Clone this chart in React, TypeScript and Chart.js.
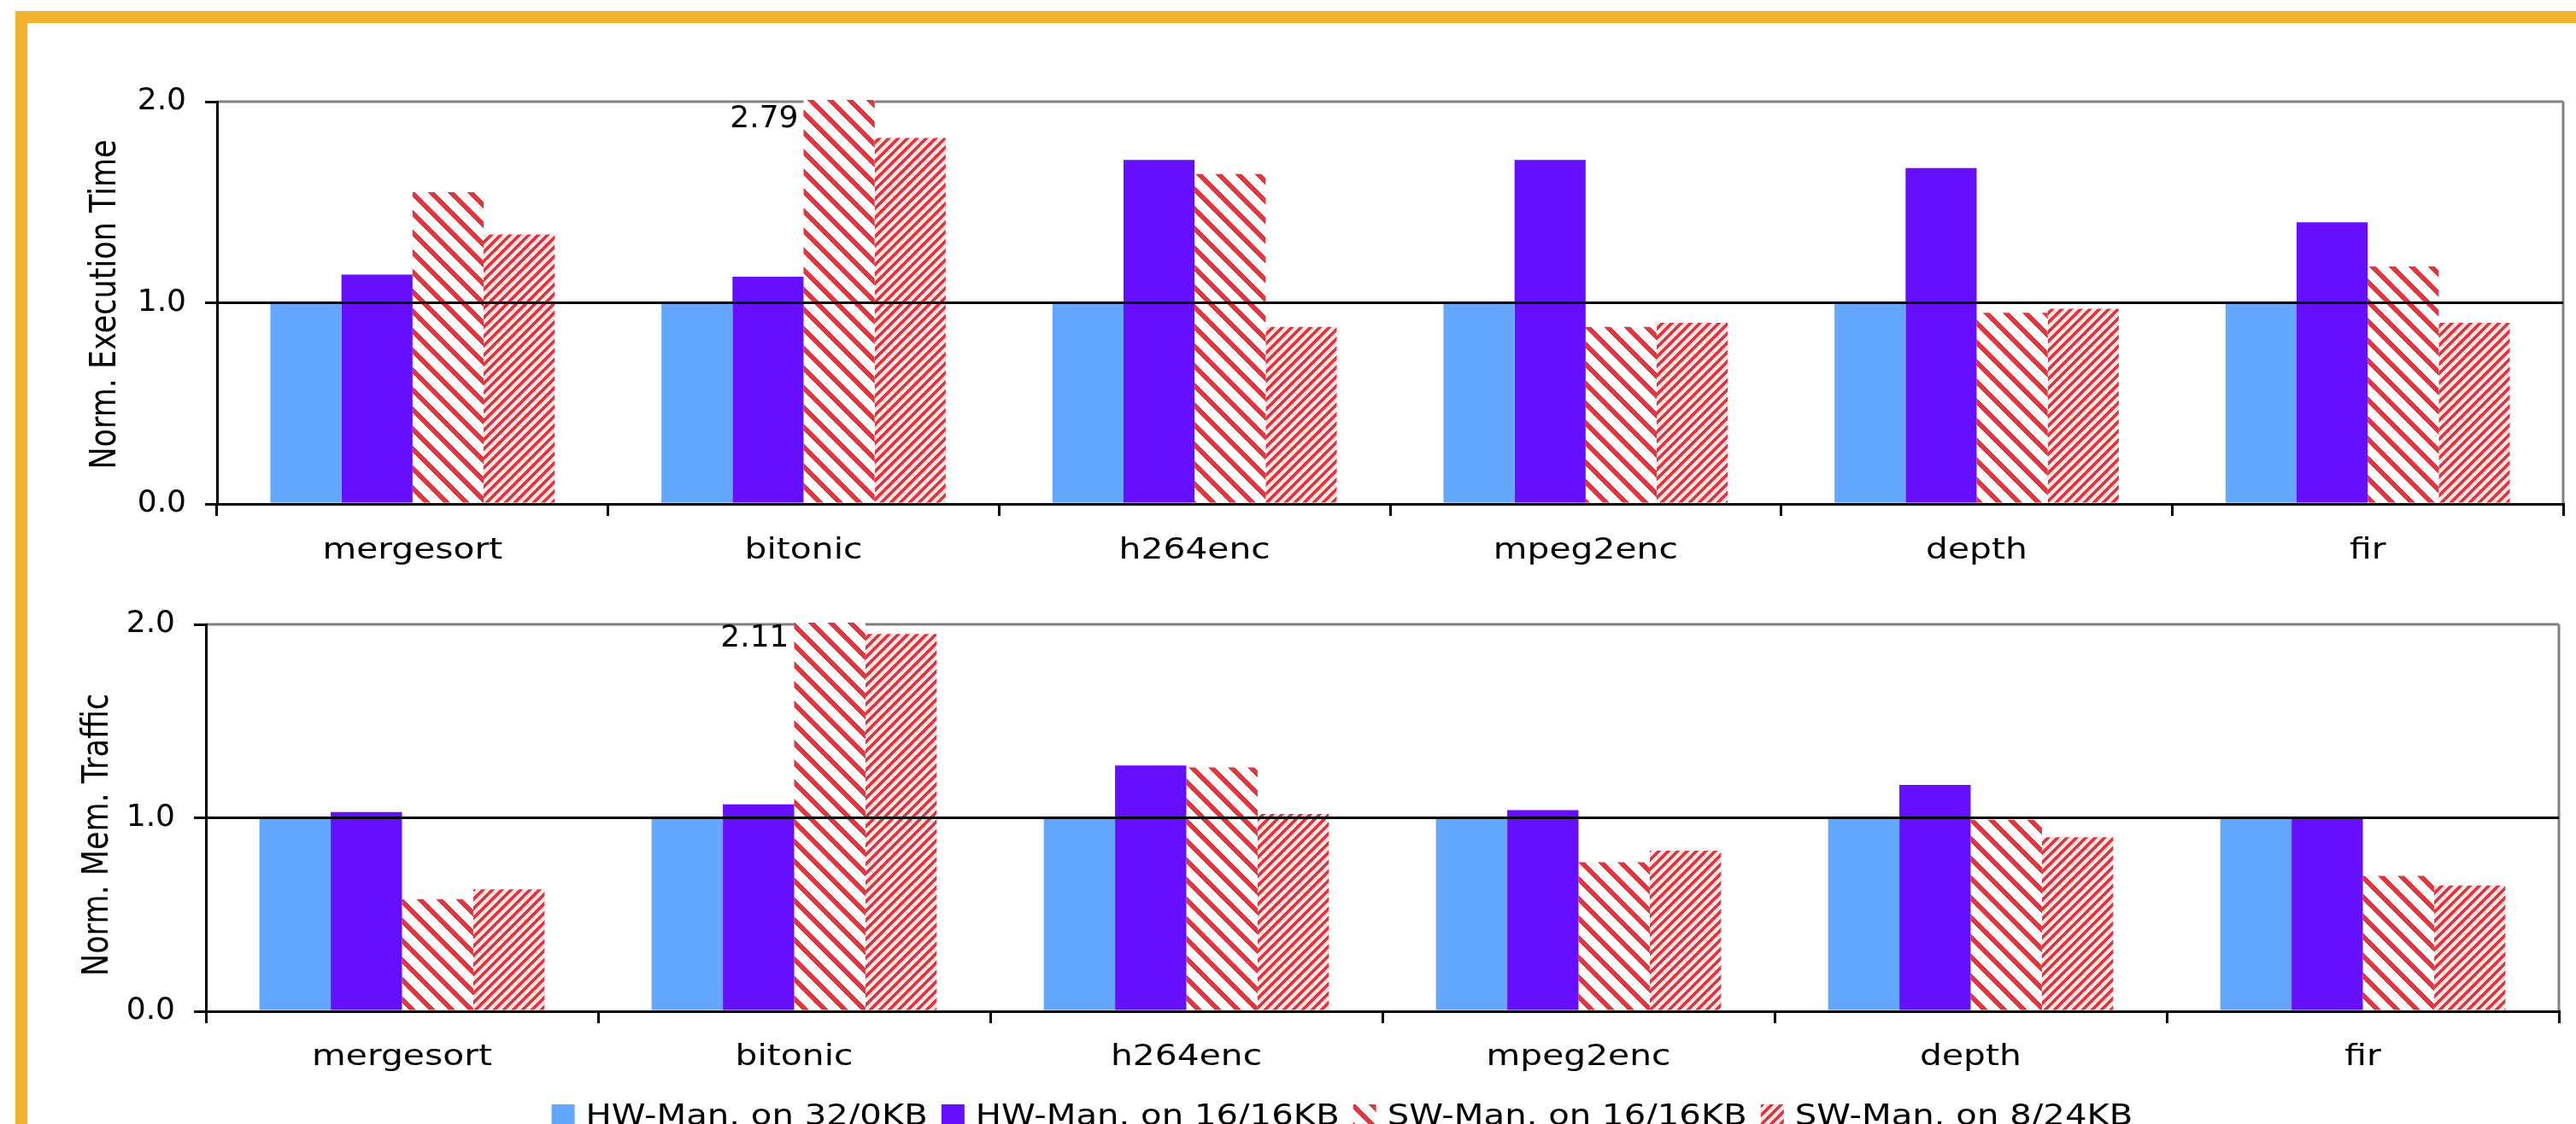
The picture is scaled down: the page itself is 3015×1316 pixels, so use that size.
import React, { useEffect, useRef } from 'react';
import { Chart, registerables } from 'chart.js';

Chart.register(...registerables);

// ---------------- data ----------------
const categories = ['mergesort', 'bitonic', 'h264enc', 'mpeg2enc', 'depth', 'fir'];
const seriesLabels = ['HW-Man. on 32/0KB', 'HW-Man. on 16/16KB', 'SW-Man. on 16/16KB', 'SW-Man. on 8/24KB'];

const execHw32 = [1.0, 1.0, 1.0, 1.0, 1.0, 1.0];
const execHw16 = [1.14, 1.13, 1.71, 1.71, 1.67, 1.4];
const execSw16 = [1.55, 2.79, 1.64, 0.88, 0.95, 1.18];
const execSw8 = [1.34, 1.82, 0.88, 0.9, 0.97, 0.9];

const memHw32 = [1.0, 1.0, 1.0, 1.0, 1.0, 1.0];
const memHw16 = [1.03, 1.07, 1.27, 1.04, 1.17, 1.0];
const memSw16 = [0.58, 2.11, 1.26, 0.77, 0.99, 0.7];
const memSw8 = [0.63, 1.95, 1.02, 0.83, 0.9, 0.65];

const yTickValues = [0, 1, 2];
const yMin = 0;
const yMax = 2;
const axisTitles = ['Norm. Execution Time', 'Norm. Mem. Traffic'];

// ---------------- styles ----------------
const FONT = '"DejaVu Sans"';
const BLUE = '#63A8FE';
const PURPLE = '#660FFF';
const RED: [number, number, number] = [226, 54, 62];
const WHITE: [number, number, number] = [255, 255, 255];
const PINK: [number, number, number] = [251, 226, 226];
const ORANGE = '#F2B22E';
const STRETCH = 1.2;

function makeHatch(
  ctx: CanvasRenderingContext2D,
  period: number,
  width: number,
  dir: 'back' | 'fwd',
  fg: [number, number, number],
  bg: [number, number, number]
) {
  const c = document.createElement('canvas');
  c.width = period;
  c.height = period;
  const g = c.getContext('2d')!;
  const img = g.createImageData(period, period);
  for (let y = 0; y < period; y++) {
    for (let x = 0; x < period; x++) {
      const k = dir === 'back' ? (((x - y) % period) + period) % period : (x + y) % period;
      const col = k < width ? fg : bg;
      const i = (y * period + x) * 4;
      img.data[i] = col[0];
      img.data[i + 1] = col[1];
      img.data[i + 2] = col[2];
      img.data[i + 3] = 255;
    }
  }
  g.putImageData(img, 0, 0);
  return ctx.createPattern(c, 'repeat') as CanvasPattern;
}

function stretchedText(
  ctx: CanvasRenderingContext2D,
  text: string,
  x: number,
  y: number,
  size: number,
  align: CanvasTextAlign,
  rotate = false
) {
  ctx.save();
  ctx.translate(x, y);
  ctx.scale(STRETCH, 1);
  if (rotate) ctx.rotate(-Math.PI / 2);
  ctx.font = `${size}px ${FONT}`;
  ctx.textAlign = align;
  ctx.textBaseline = 'alphabetic';
  ctx.fillStyle = '#000';
  ctx.fillText(text, 0, 0);
  ctx.restore();
}

type Geom = {
  padTop: number;
  padRight: number;
  axisW: number;
  xAxisH: number;
  titleOffset: number;
  titleDy: number;
  catDy: number;
  overflowDy: number;
  legend: boolean;
};

const geoms: Geom[] = [
  { padTop: 119, padRight: 15, axisW: 254, xAxisH: 90, titleOffset: 119, titleDy: 2, catDy: 64, overflowDy: 21, legend: false },
  { padTop: 51, padRight: 20, axisW: 241, xAxisH: 156, titleOffset: 115, titleDy: 20, catDy: 63, overflowDy: 17, legend: true },
];

function buildConfig(kind: number, ctx: CanvasRenderingContext2D): any {
  const g = geoms[kind];
  const values = kind === 0 ? [execHw32, execHw16, execSw16, execSw8] : [memHw32, memHw16, memSw16, memSw8];
  const fills: any[] = [
    BLUE,
    PURPLE,
    makeHatch(ctx, 23, 8, 'back', RED, WHITE),
    makeHatch(ctx, 11, 5, 'fwd', RED, PINK),
  ];

  const decor = {
    id: 'decor' + kind,
    beforeDatasetsDraw(chart: any) {
      const { ctx: c, chartArea: a } = chart;
      c.save();
      c.strokeStyle = '#808080';
      c.lineWidth = 3;
      c.beginPath();
      c.moveTo(a.left, a.top);
      c.lineTo(a.right, a.top);
      c.moveTo(a.right, a.top);
      c.lineTo(a.right, a.bottom);
      c.stroke();
      c.restore();
    },
    afterDatasetsDraw(chart: any) {
      const { ctx: c, chartArea: a } = chart;
      values.forEach((arr, di) => {
        const meta = chart.getDatasetMeta(di);
        arr.forEach((v, j) => {
          if (v > yMax) {
            const bar = meta.data[j];
            c.save();
            c.font = `36px ${FONT}`;
            c.fillStyle = '#000';
            c.textAlign = 'right';
            c.textBaseline = 'middle';
            c.fillText(v.toFixed(2), bar.x - bar.width / 2 - 6, a.top + g.overflowDy);
            c.restore();
          }
        });
      });
    },
    afterDraw(chart: any) {
      const { ctx: c, chartArea: a } = chart;
      const xs = chart.scales.x;
      categories.forEach((cat, i) => {
        stretchedText(c, cat, xs.getPixelForValue(i), a.bottom + g.catDy, 34, 'center');
      });
      stretchedText(c, axisTitles[kind], a.left - g.titleOffset, (a.top + a.bottom) / 2 + g.titleDy, 35, 'center', true);

      if (g.legend) {
        const size = 33.5;
        c.save();
        c.font = `${size}px ${FONT}`;
        const widths = seriesLabels.map((l) => c.measureText(l).width * STRETCH);
        c.restore();
        const box = 27;
        const gapBox = 13;
        const gapItem = 16;
        const total = widths.reduce((s, w) => s + w + box + gapBox, 0) + gapItem * (seriesLabels.length - 1);
        let x = 1571 - total / 2;
        const boxTop = a.bottom + 109;
        const baseline = a.bottom + 133;
        seriesLabels.forEach((l, i) => {
          c.save();
          c.fillStyle = fills[i];
          c.fillRect(x, boxTop, box, box);
          c.restore();
          stretchedText(c, l, x + box + gapBox, baseline, size, 'left');
          x += box + gapBox + widths[i] + gapItem;
        });
      }
    },
  };

  return {
    type: 'bar',
    data: {
      labels: categories,
      datasets: values.map((arr, i) => ({
        label: seriesLabels[i],
        data: arr,
        backgroundColor: fills[i],
        borderWidth: 0,
        categoryPercentage: 0.727,
        barPercentage: 1.0,
        clip: { left: 0, top: 2, right: 0, bottom: 0 },
      })),
    },
    options: {
      responsive: false,
      animation: false,
      devicePixelRatio: 1,
      events: [],
      layout: { padding: { top: g.padTop, right: g.padRight, left: 0, bottom: 0 } },
      plugins: { legend: { display: false }, tooltip: { enabled: false }, title: { display: false } },
      scales: {
        x: {
          type: 'category',
          offset: true,
          grid: {
            display: true,
            drawOnChartArea: false,
            drawTicks: true,
            tickLength: 14,
            lineWidth: 3,
            color: '#000',
            tickColor: '#000',
            offset: true,
            z: 1,
          },
          border: { display: true, color: '#000', width: 3, z: 1 },
          ticks: { display: false },
          afterFit: (s: any) => {
            s.height = g.xAxisH;
          },
        },
        y: {
          min: yMin,
          max: yMax,
          afterBuildTicks: (s: any) => {
            s.ticks = yTickValues.map((v) => ({ value: v }));
          },
          grid: {
            display: true,
            drawTicks: true,
            tickLength: 14,
            lineWidth: 3,
            color: (c: any) => (c.tick && c.tick.value === 1 ? '#000' : 'rgba(0,0,0,0)'),
            tickColor: '#000',
            z: 1,
          },
          border: { display: true, color: '#000', width: 3, z: 1 },
          ticks: {
            padding: 22,
            color: '#000',
            font: { family: FONT, size: 36 },
            callback: (v: any) => Number(v).toFixed(1),
          },
          afterFit: (s: any) => {
            s.width = g.axisW;
          },
        },
      },
    },
    plugins: [decor],
  };
}

export default function App() {
  const topRef = useRef<HTMLCanvasElement>(null);
  const botRef = useRef<HTMLCanvasElement>(null);

  useEffect(() => {
    const charts: Chart[] = [];
    [topRef, botRef].forEach((r, k) => {
      const cv = r.current;
      if (!cv) return;
      const ctx = cv.getContext('2d')!;
      charts.push(new Chart(cv, buildConfig(k, ctx)));
    });
    return () => charts.forEach((c) => c.destroy());
  }, []);

  return (
    <div style={{ position: 'fixed', left: 0, top: 0, width: 3015, height: 1316, overflow: 'hidden', background: '#fff' }}>
      <canvas ref={topRef} width={3015} height={680} style={{ position: 'absolute', left: 0, top: 0, width: 3015, height: 680 }} />
      <canvas ref={botRef} width={3015} height={660} style={{ position: 'absolute', left: 0, top: 680, width: 3015, height: 660 }} />
      <div
        style={{
          position: 'absolute',
          left: 18,
          top: 13,
          width: 3015,
          height: 1400,
          borderLeft: `14px solid ${ORANGE}`,
          borderTop: `14px solid ${ORANGE}`,
          boxSizing: 'border-box',
          pointerEvents: 'none',
        }}
      />
    </div>
  );
}
